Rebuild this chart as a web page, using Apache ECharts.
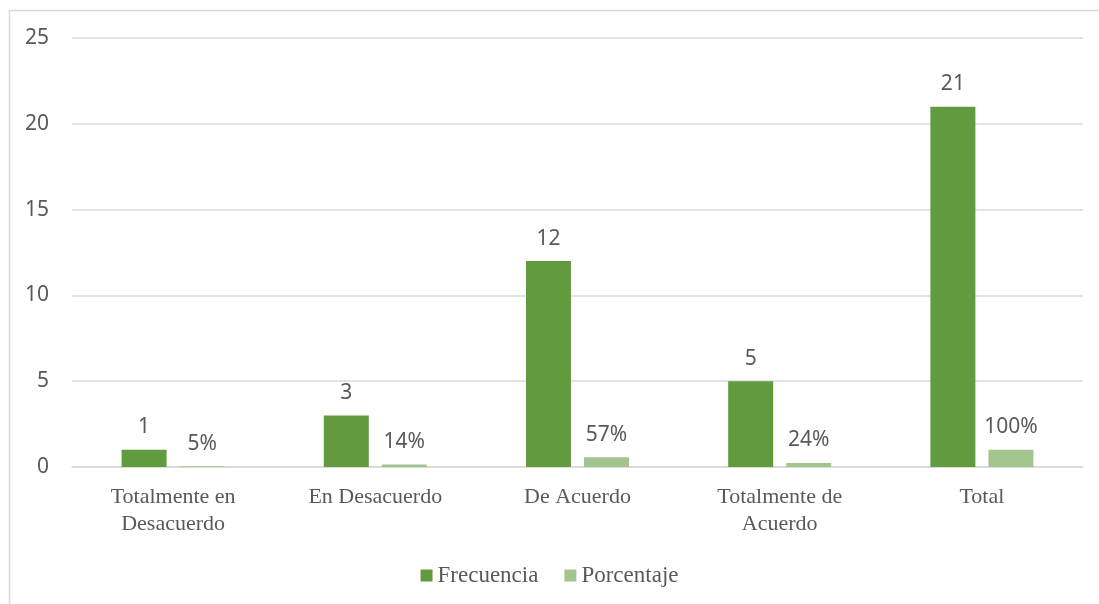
<!DOCTYPE html>
<html>
<head>
<meta charset="utf-8">
<script src="https://cdn.jsdelivr.net/npm/echarts@6/dist/echarts.min.js"></script>
<style>
  html, body { margin: 0; padding: 0; background: #fff; }
  #chart { width: 1099px; height: 604px; }
</style>
</head>
<body>
<div id="chart"></div>
<script>
// Response categories and the two series shown for each
const categories = ['Totalmente en\nDesacuerdo', 'En Desacuerdo', 'De Acuerdo', 'Totalmente de\nAcuerdo', 'Total'];
const frecuencia = [1, 3, 12, 5, 21];
const porcentaje = [0.05, 0.14, 0.57, 0.24, 1.00];
const yTicks = { min: 0, max: 25, interval: 5 };

const textColor = '#595959';
const numFont = "'Noto Sans', 'Open Sans', sans-serif";
const serifFont = "'Liberation Serif', 'DejaVu Serif', serif";

const chart = echarts.init(document.getElementById('chart'), null, { renderer: 'canvas' });

chart.setOption({
  animation: false,
  backgroundColor: '#ffffff',
  graphic: [{
    type: 'rect',
    left: 7, top: 8,
    shape: { x: 0.5, y: 0.5, width: 1200, height: 700 },
    style: { fill: 'none', stroke: '#d9d9d9', lineWidth: 1.5 },
    silent: true
  }],
  grid: { left: 72, right: 16, top: 38, bottom: 137, containLabel: false },
  legend: {
    bottom: 12,
    left: 'center',
    itemWidth: 12,
    itemHeight: 12,
    itemGap: 26,
    icon: 'rect',
    textStyle: { color: textColor, fontFamily: serifFont, fontSize: 23 },
    data: ['Frecuencia', 'Porcentaje']
  },
  xAxis: {
    type: 'category',
    data: categories,
    axisLine: { lineStyle: { color: '#d9d9d9', width: 1.5 } },
    axisTick: { show: false },
    axisLabel: {
      color: textColor, fontFamily: serifFont, fontSize: 22,
      lineHeight: 27, margin: 17, interval: 0
    }
  },
  yAxis: {
    type: 'value',
    min: yTicks.min, max: yTicks.max, interval: yTicks.interval,
    axisLine: { show: false },
    axisTick: { show: false },
    splitLine: { lineStyle: { color: '#d9d9d9', width: 1.5 } },
    axisLabel: { color: textColor, fontFamily: numFont, fontSize: 21, margin: 23 }
  },
  series: [
    {
      name: 'Frecuencia',
      type: 'bar',
      data: frecuencia,
      barWidth: 45,
      barGap: '29%',
      itemStyle: { color: '#629b3f' },
      label: {
        show: true, position: 'top', distance: 12,
        color: textColor, fontFamily: numFont, fontSize: 21
      }
    },
    {
      name: 'Porcentaje',
      type: 'bar',
      data: porcentaje,
      barWidth: 45,
      itemStyle: { color: '#a2c590' },
      label: {
        show: true, position: 'top', distance: 12,
        color: textColor, fontFamily: numFont, fontSize: 21,
        formatter: p => Math.round(p.value * 100) + '%'
      }
    }
  ]
});
</script>
</body>
</html>
